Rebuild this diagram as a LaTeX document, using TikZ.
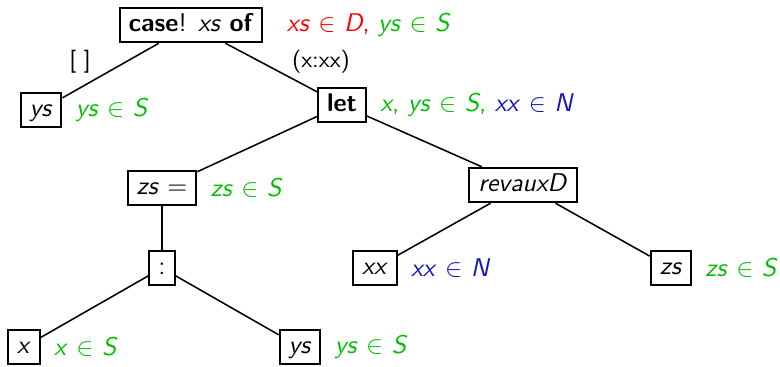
\documentclass[tikz,border=0pt]{standalone}
\usepackage{tikz}
\usetikzlibrary{positioning}
\definecolor{rcolor}{RGB}{255,0,0}
\definecolor{gcolor}{RGB}{0,191,0}
\definecolor{bcolor}{RGB}{20,20,190}
\renewcommand{\familydefault}{\sfdefault}
\newcommand{\vr}[1]{\textit{#1}}
\newcommand{\mem}{\ensuremath{\in}}

\begin{document}
\begin{tikzpicture}[x=0.01372cm, y=-0.01372cm, font=\sffamily,
      tbox/.style={draw, line width=0.8pt, inner xsep=3.5pt, inner ysep=2pt,
        text height=7.2pt, text depth=2.2pt},
      note/.style={inner sep=0pt},
      edge/.style={line width=0.6pt},
      blabel/.style={font=\sffamily\small, inner sep=1pt}]
    \useasboundingbox (0,0) rectangle (780,366);
    % nodes
    \node[tbox] (case) at (191,25) {\textbf{case}! \vr{xs} \textbf{of}};
    \node[tbox] (ys1) at (41,110) {\vr{ys}};
    \node[tbox] (let) at (342,105) {\textbf{let}};
    \node[tbox] (zsdef) at (162,188) {\vr{zs} $=$};
    \node[tbox] (rev) at (523,185) {\vr{revauxD}};
    \node[tbox] (cons) at (162,268) {:};
    \node[tbox] (xx) at (375,268) {\vr{xx}};
    \node[tbox] (zs) at (671,268) {\vr{zs}};
    \node[tbox] (x) at (24,347) {\vr{x}};
    \node[tbox] (ys2) at (300,347) {\vr{ys}};
    % annotations
    \node[note, right=9pt of case] (ncase) {\color{rcolor}\vr{xs} \mem{} \vr{D}, \color{gcolor}\vr{ys} \mem{} \vr{S}};
    \node[note, right=5pt of ys1] (nys1) {\color{gcolor}\vr{ys} \mem{} \vr{S}};
    \node[note, right=5pt of let] (nlet) {\color{gcolor}\vr{x}, \vr{ys} \mem{} \vr{S}, \color{bcolor}\vr{xx} \mem{} \vr{N}};
    \node[note, right=5pt of zsdef] (nzsdef) {\color{gcolor}\vr{zs} \mem{} \vr{S}};
    \node[note, right=5pt of xx] (nxx) {\color{bcolor}\vr{xx} \mem{} \vr{N}};
    \node[note, right=5pt of zs] (nzs) {\color{gcolor}\vr{zs} \mem{} \vr{S}};
    \node[note, right=5pt of x] (nx) {\color{gcolor}\vr{x} \mem{} \vr{S}};
    \node[note, right=5pt of ys2] (nys2) {\color{gcolor}\vr{ys} \mem{} \vr{S}};
    % branch labels
    \node[blabel] (lnil) at (80,62) {[\,\,]};
    \node[blabel] (lcons) at (321,62) {(x:xx)};
    % edges
    \draw[edge] (case) -- (ys1);
    \draw[edge] (case) -- (let);
    \draw[edge] (let) -- (zsdef);
    \draw[edge] (let) -- (rev);
    \draw[edge] (zsdef) -- (cons);
    \draw[edge] (rev) -- (xx);
    \draw[edge] (rev) -- (zs);
    \draw[edge] (cons) -- (x);
    \draw[edge] (cons) -- (ys2);
  \end{tikzpicture}
\end{document}
